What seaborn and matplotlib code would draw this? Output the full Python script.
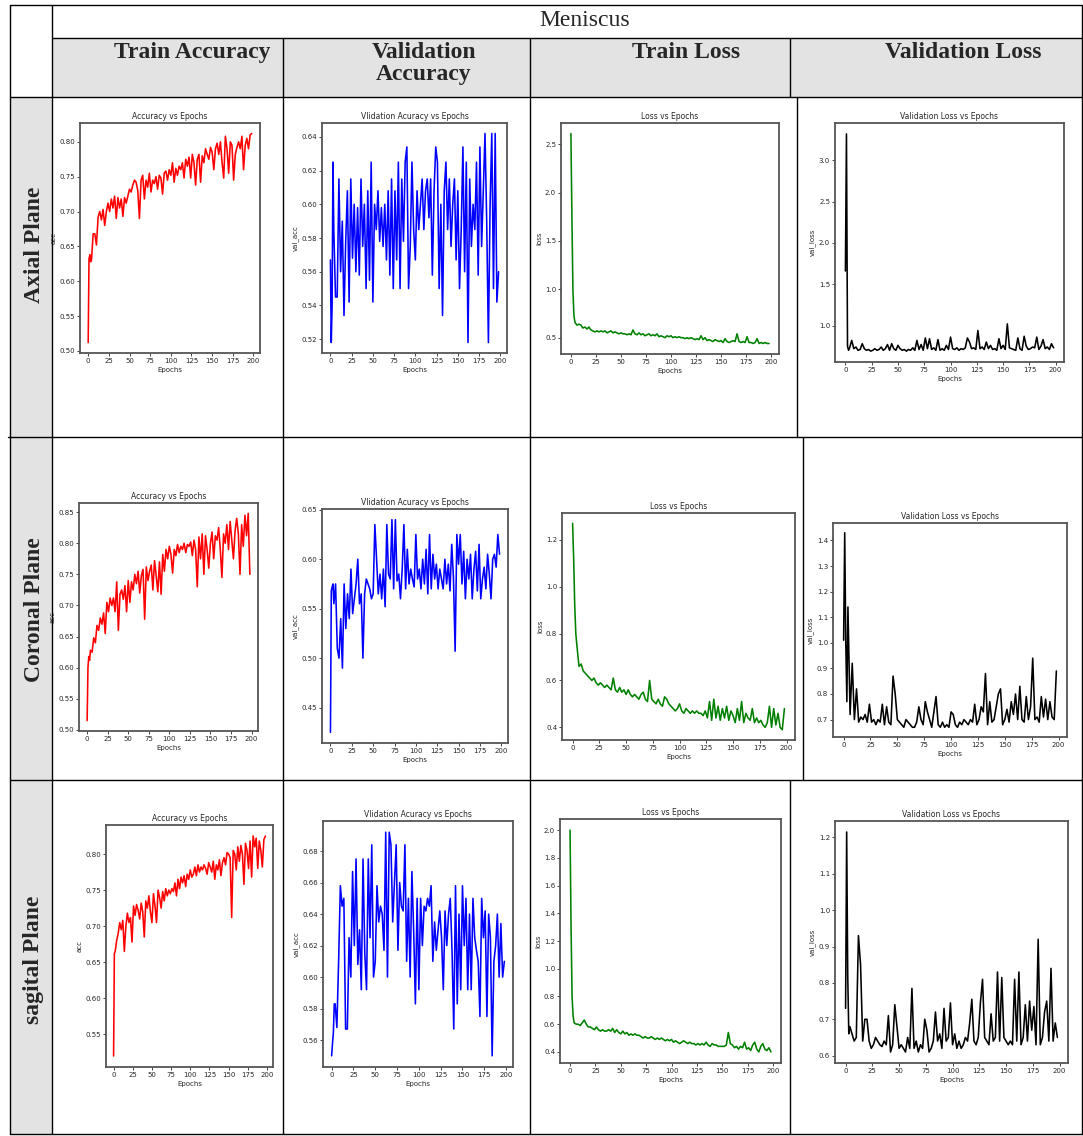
import matplotlib
matplotlib.use("Agg")
import matplotlib.pyplot as plt
import seaborn as sns
from matplotlib.lines import Line2D
from matplotlib.patches import Rectangle
from matplotlib.ticker import MultipleLocator

# ---------------------------
# Data (epochs 0-3 then every 2nd epoch)
# ---------------------------
EPOCHS = [0, 1, 2, 3] + list(range(4, 200, 2))

AX_TRAIN_ACC = [
    0.512, 0.632, 0.638, 0.628,
    0.630, 0.668, 0.668, 0.652, 0.692, 0.700, 0.688, 0.703, 0.680, 0.700, 0.712, 0.700, 0.718, 0.705,
    0.722, 0.690, 0.720, 0.705, 0.718, 0.693, 0.720, 0.712, 0.722, 0.732, 0.728, 0.738, 0.745, 0.742,
    0.730, 0.690, 0.745, 0.752, 0.718, 0.745, 0.735, 0.755, 0.728, 0.745, 0.740, 0.750, 0.732, 0.752,
    0.748, 0.725, 0.755, 0.758, 0.745, 0.760, 0.752, 0.770, 0.742, 0.762, 0.752, 0.765, 0.760, 0.770,
    0.748, 0.775, 0.765, 0.778, 0.748, 0.782, 0.770, 0.738, 0.775, 0.782, 0.742, 0.780, 0.770, 0.790,
    0.782, 0.775, 0.792, 0.785, 0.760, 0.790, 0.798, 0.782, 0.800, 0.770, 0.748, 0.808, 0.790, 0.755,
    0.800, 0.795, 0.745, 0.782, 0.792, 0.800, 0.790, 0.808, 0.760, 0.795, 0.805, 0.790, 0.810, 0.812,
]
AX_VAL_ACC = [
    0.567, 0.518, 0.540, 0.625,
    0.585, 0.545, 0.545, 0.615, 0.560, 0.590, 0.534, 0.578, 0.608, 0.542, 0.615, 0.568, 0.600, 0.560,
    0.598, 0.558, 0.615, 0.575, 0.600, 0.550, 0.608, 0.555, 0.625, 0.542, 0.600, 0.585, 0.608, 0.578,
    0.598, 0.575, 0.600, 0.567, 0.608, 0.558, 0.615, 0.550, 0.608, 0.567, 0.625, 0.550, 0.615, 0.578,
    0.625, 0.634, 0.550, 0.575, 0.625, 0.585, 0.567, 0.608, 0.585, 0.600, 0.615, 0.585, 0.608, 0.615,
    0.592, 0.615, 0.558, 0.608, 0.634, 0.625, 0.550, 0.600, 0.534, 0.608, 0.625, 0.585, 0.615, 0.575,
    0.600, 0.615, 0.567, 0.608, 0.550, 0.585, 0.634, 0.560, 0.625, 0.518, 0.615, 0.575, 0.600, 0.585,
    0.625, 0.558, 0.634, 0.575, 0.608, 0.642, 0.590, 0.518, 0.600, 0.642, 0.550, 0.642, 0.542, 0.560,
]
AX_TRAIN_LOSS = [
    2.61, 1.75, 1.00, 0.73,
    0.66, 0.63, 0.64, 0.63, 0.60, 0.61, 0.59, 0.61, 0.58, 0.57, 0.56, 0.57, 0.56, 0.57,
    0.56, 0.57, 0.55, 0.56, 0.57, 0.55, 0.56, 0.55, 0.54, 0.55, 0.54, 0.54, 0.53, 0.54,
    0.53, 0.58, 0.54, 0.53, 0.55, 0.53, 0.54, 0.52, 0.53, 0.54, 0.52, 0.53, 0.52, 0.54,
    0.51, 0.52, 0.51, 0.50, 0.52, 0.51, 0.52, 0.50, 0.51, 0.50, 0.51, 0.50, 0.50, 0.49,
    0.50, 0.49, 0.50, 0.49, 0.48, 0.49, 0.48, 0.52, 0.48, 0.50, 0.47, 0.48, 0.47, 0.46,
    0.48, 0.47, 0.46, 0.47, 0.45, 0.49, 0.46, 0.45, 0.46, 0.47, 0.46, 0.54, 0.46, 0.45,
    0.46, 0.45, 0.51, 0.45, 0.45, 0.44, 0.45, 0.49, 0.44, 0.45, 0.44, 0.45, 0.44, 0.44,
]
AX_VAL_LOSS = [
    1.66, 3.32, 0.75, 0.70,
    0.73, 0.82, 0.72, 0.74, 0.70, 0.71, 0.78, 0.72, 0.70, 0.71, 0.69, 0.70, 0.72, 0.70,
    0.71, 0.74, 0.70, 0.72, 0.77, 0.70, 0.78, 0.72, 0.70, 0.76, 0.72, 0.70, 0.71, 0.69,
    0.71, 0.70, 0.73, 0.70, 0.82, 0.71, 0.77, 0.70, 0.85, 0.72, 0.84, 0.71, 0.73, 0.70,
    0.83, 0.70, 0.72, 0.70, 0.76, 0.71, 0.86, 0.72, 0.71, 0.73, 0.70, 0.72, 0.71, 0.73,
    0.85, 0.80, 0.72, 0.73, 0.71, 0.94, 0.72, 0.74, 0.71, 0.80, 0.72, 0.76, 0.71, 0.72,
    0.70, 0.84, 0.72, 0.76, 0.71, 1.02, 0.73, 0.72, 0.71, 0.70, 0.85, 0.72, 0.70, 0.87,
    0.75, 0.71, 0.72, 0.74, 0.73, 0.86, 0.71, 0.75, 0.83, 0.72, 0.74, 0.71, 0.78, 0.73,
]

CO_TRAIN_ACC = [
    0.515, 0.600, 0.618, 0.612,
    0.628, 0.625, 0.648, 0.640, 0.668, 0.660, 0.680, 0.670, 0.688, 0.655, 0.705, 0.690, 0.712, 0.700,
    0.712, 0.690, 0.738, 0.660, 0.718, 0.725, 0.710, 0.732, 0.690, 0.740, 0.705, 0.738, 0.725, 0.750,
    0.735, 0.755, 0.720, 0.748, 0.758, 0.678, 0.762, 0.740, 0.755, 0.765, 0.725, 0.772, 0.748, 0.722,
    0.770, 0.718, 0.782, 0.755, 0.790, 0.775, 0.795, 0.782, 0.752, 0.790, 0.780, 0.798, 0.785, 0.795,
    0.790, 0.800, 0.785, 0.798, 0.795, 0.802, 0.780, 0.805, 0.790, 0.730, 0.810, 0.775, 0.815, 0.750,
    0.812, 0.790, 0.760, 0.800, 0.818, 0.775, 0.812, 0.805, 0.825, 0.790, 0.745, 0.815, 0.800, 0.830,
    0.790, 0.835, 0.805, 0.775, 0.820, 0.840, 0.815, 0.750, 0.830, 0.795, 0.845, 0.812, 0.848, 0.750,
]
CO_VAL_ACC = [
    0.425, 0.568, 0.572, 0.575,
    0.555, 0.575, 0.510, 0.500, 0.540, 0.490, 0.575, 0.530, 0.565, 0.540, 0.590, 0.545, 0.560, 0.575,
    0.600, 0.555, 0.565, 0.500, 0.565, 0.580, 0.575, 0.570, 0.560, 0.565, 0.635, 0.600, 0.565, 0.585,
    0.560, 0.590, 0.552, 0.635, 0.585, 0.580, 0.640, 0.570, 0.640, 0.578, 0.585, 0.560, 0.590, 0.635,
    0.570, 0.610, 0.575, 0.590, 0.580, 0.572, 0.625, 0.580, 0.590, 0.570, 0.600, 0.575, 0.610, 0.565,
    0.625, 0.570, 0.605, 0.580, 0.595, 0.570, 0.590, 0.580, 0.570, 0.600, 0.575, 0.595, 0.568, 0.615,
    0.582, 0.507, 0.625, 0.595, 0.625, 0.575, 0.608, 0.560, 0.600, 0.580, 0.605, 0.560, 0.590, 0.608,
    0.568, 0.615, 0.560, 0.580, 0.592, 0.570, 0.605, 0.585, 0.560, 0.600, 0.605, 0.592, 0.625, 0.605,
]
CO_TRAIN_LOSS = [
    1.27, 1.12, 0.92, 0.80,
    0.75, 0.66, 0.67, 0.64, 0.63, 0.62, 0.61, 0.60, 0.61, 0.59, 0.58, 0.59, 0.58, 0.57,
    0.58, 0.57, 0.56, 0.61, 0.56, 0.55, 0.57, 0.55, 0.56, 0.54, 0.56, 0.54, 0.53, 0.54,
    0.53, 0.52, 0.54, 0.55, 0.52, 0.51, 0.60, 0.52, 0.51, 0.50, 0.52, 0.50, 0.49, 0.53,
    0.52, 0.50, 0.49, 0.48, 0.47, 0.48, 0.50, 0.47, 0.46, 0.48, 0.47, 0.46, 0.47, 0.46,
    0.47, 0.46, 0.46, 0.45, 0.47, 0.44, 0.51, 0.43, 0.52, 0.44, 0.49, 0.43, 0.48, 0.44,
    0.49, 0.43, 0.47, 0.45, 0.42, 0.48, 0.43, 0.51, 0.42, 0.46, 0.44, 0.43, 0.48, 0.42,
    0.44, 0.42, 0.43, 0.41, 0.40, 0.42, 0.49, 0.40, 0.48, 0.41, 0.46, 0.40, 0.39, 0.48,
]
CO_VAL_LOSS = [
    1.01, 1.43, 1.00, 0.77,
    1.14, 0.72, 0.92, 0.70, 0.82, 0.69, 0.71, 0.70, 0.72, 0.69, 0.76, 0.69, 0.70, 0.68,
    0.70, 0.69, 0.76, 0.68, 0.75, 0.69, 0.68, 0.87, 0.80, 0.70, 0.69, 0.68, 0.67, 0.70,
    0.69, 0.68, 0.67, 0.67, 0.69, 0.75, 0.70, 0.68, 0.77, 0.73, 0.70, 0.67, 0.73, 0.79,
    0.68, 0.67, 0.69, 0.67, 0.68, 0.67, 0.73, 0.72, 0.68, 0.67, 0.69, 0.68, 0.70, 0.69,
    0.68, 0.70, 0.69, 0.76, 0.68, 0.70, 0.75, 0.73, 0.88, 0.68, 0.77, 0.69, 0.70, 0.75,
    0.80, 0.82, 0.68, 0.70, 0.74, 0.69, 0.77, 0.72, 0.80, 0.70, 0.83, 0.70, 0.69, 0.79,
    0.70, 0.75, 0.94, 0.70, 0.71, 0.69, 0.79, 0.71, 0.78, 0.70, 0.77, 0.71, 0.70, 0.89,
]

SA_TRAIN_ACC = [
    0.520, 0.662, 0.665, 0.672,
    0.680, 0.690, 0.705, 0.695, 0.708, 0.665, 0.700, 0.718, 0.705, 0.712, 0.678, 0.728, 0.715, 0.730,
    0.722, 0.710, 0.732, 0.720, 0.685, 0.735, 0.725, 0.742, 0.720, 0.705, 0.745, 0.728, 0.705, 0.750,
    0.740, 0.725, 0.748, 0.735, 0.752, 0.742, 0.750, 0.745, 0.752, 0.748, 0.760, 0.742, 0.765, 0.752,
    0.768, 0.760, 0.770, 0.755, 0.772, 0.765, 0.778, 0.768, 0.772, 0.782, 0.770, 0.785, 0.775, 0.782,
    0.778, 0.785, 0.780, 0.772, 0.788, 0.782, 0.775, 0.790, 0.765, 0.785, 0.778, 0.792, 0.770, 0.788,
    0.795, 0.785, 0.802, 0.800, 0.795, 0.712, 0.805, 0.800, 0.778, 0.810, 0.790, 0.812, 0.800, 0.758,
    0.815, 0.805, 0.780, 0.818, 0.768, 0.825, 0.810, 0.822, 0.780, 0.818, 0.805, 0.782, 0.820, 0.825,
]
SA_VAL_ACC = [
    0.550, 0.558, 0.565, 0.583,
    0.583, 0.568, 0.610, 0.658, 0.645, 0.650, 0.567, 0.567, 0.625, 0.600, 0.667, 0.620, 0.675, 0.608,
    0.630, 0.592, 0.675, 0.615, 0.592, 0.675, 0.625, 0.684, 0.600, 0.610, 0.658, 0.635, 0.645, 0.640,
    0.617, 0.692, 0.600, 0.692, 0.684, 0.635, 0.660, 0.684, 0.617, 0.660, 0.645, 0.642, 0.684, 0.610,
    0.650, 0.600, 0.667, 0.630, 0.583, 0.650, 0.592, 0.650, 0.620, 0.645, 0.642, 0.650, 0.645, 0.658,
    0.610, 0.635, 0.617, 0.630, 0.642, 0.625, 0.592, 0.642, 0.620, 0.640, 0.650, 0.617, 0.567, 0.658,
    0.583, 0.640, 0.592, 0.658, 0.620, 0.650, 0.592, 0.640, 0.592, 0.650, 0.625, 0.617, 0.610, 0.575,
    0.650, 0.625, 0.642, 0.575, 0.640, 0.625, 0.550, 0.610, 0.620, 0.640, 0.600, 0.634, 0.600, 0.610,
]
SA_TRAIN_LOSS = [
    2.00, 1.30, 0.80, 0.66,
    0.61, 0.60, 0.60, 0.59, 0.61, 0.63, 0.60, 0.58, 0.58, 0.57, 0.56, 0.58, 0.56, 0.55,
    0.56, 0.55, 0.55, 0.56, 0.55, 0.57, 0.54, 0.56, 0.54, 0.53, 0.55, 0.53, 0.54, 0.52,
    0.53, 0.52, 0.53, 0.52, 0.52, 0.51, 0.50, 0.51, 0.50, 0.50, 0.51, 0.50, 0.49, 0.50,
    0.49, 0.50, 0.49, 0.48, 0.49, 0.48, 0.49, 0.47, 0.48, 0.47, 0.46, 0.47, 0.48, 0.47,
    0.46, 0.47, 0.46, 0.46, 0.45, 0.46, 0.45, 0.46, 0.45, 0.47, 0.45, 0.44, 0.46, 0.45,
    0.45, 0.44, 0.44, 0.44, 0.44, 0.45, 0.54, 0.46, 0.45, 0.43, 0.44, 0.42, 0.44, 0.43,
    0.47, 0.42, 0.43, 0.41, 0.45, 0.47, 0.42, 0.40, 0.44, 0.46, 0.42, 0.41, 0.43, 0.40,
]
SA_VAL_LOSS = [
    0.730, 1.215, 0.820, 0.660,
    0.680, 0.660, 0.640, 0.650, 0.930, 0.850, 0.640, 0.700, 0.700, 0.640, 0.620, 0.630, 0.650, 0.640,
    0.630, 0.625, 0.640, 0.630, 0.710, 0.610, 0.630, 0.740, 0.680, 0.620, 0.630, 0.620, 0.610, 0.650,
    0.620, 0.785, 0.620, 0.640, 0.610, 0.630, 0.620, 0.700, 0.670, 0.610, 0.620, 0.640, 0.720, 0.640,
    0.660, 0.620, 0.730, 0.640, 0.650, 0.745, 0.630, 0.660, 0.620, 0.640, 0.620, 0.630, 0.650, 0.640,
    0.690, 0.755, 0.640, 0.630, 0.650, 0.745, 0.810, 0.650, 0.640, 0.630, 0.715, 0.640, 0.650, 0.830,
    0.640, 0.815, 0.650, 0.640, 0.630, 0.640, 0.630, 0.810, 0.640, 0.830, 0.630, 0.650, 0.740, 0.640,
    0.750, 0.670, 0.735, 0.630, 0.920, 0.630, 0.650, 0.720, 0.750, 0.640, 0.840, 0.640, 0.690, 0.650,
]

COLUMN_HEADERS = ["Train Accuracy", "Validation\nAccuracy", "Train Loss", "Validation Loss"]
ROW_LABELS = ["Axial Plane", "Coronal Plane", "sagital Plane"]
TABLE_TITLE = "Meniscus"

# ---------------------------
# Layout (pixels of the 1083 x 1136 canvas)
# ---------------------------
W, H = 1083, 1136
sns.set_theme(style="ticks")
plt.rcParams["font.family"] = ["DejaVu Sans"]

fig = plt.figure(figsize=(W / 100, H / 100), dpi=100)
fig.patch.set_facecolor("white")


def fx(x):
    return x / W


def fy(y):
    return 1 - y / H


def line(x0, y0, x1, y1, lw=1.0):
    fig.add_artist(Line2D([fx(x0), fx(x1)], [fy(y0), fy(y1)],
                          transform=fig.transFigure, color="black", lw=lw))


def fill(x0, y0, x1, y1, color="#e3e3e3"):
    fig.add_artist(Rectangle((fx(x0), fy(y1)), fx(x1) - fx(x0), fy(y0) - fy(y1),
                             transform=fig.transFigure, facecolor=color,
                             edgecolor="none", zorder=0))


# grey cells
fill(52, 38, 1083, 97)
fill(10, 97, 52, 437)
fill(10, 437, 52, 780)
fill(10, 780, 52, 1134)

# table rules
line(10, 5, 1083, 5)
line(52, 38, 1083, 38)
line(10, 97, 1083, 97)
line(8, 437, 1083, 437)
line(10, 780, 1083, 780)
line(10, 1134, 1083, 1134)
line(10, 5, 10, 1134)
line(52, 5, 52, 1134)
line(1082, 5, 1082, 1134)
for x in (283, 530, 790):
    line(x, 38, x, 97)
for x in (283, 530, 797):
    line(x, 97, x, 437)
for x in (283, 530, 803):
    line(x, 437, x, 780)
for x in (283, 530, 790):
    line(x, 780, x, 1134)

serif = ["Liberation Serif", "DejaVu Serif"]
fig.text(fx(585), fy(21), TABLE_TITLE, ha="center", va="center",
         fontsize=17, family=serif)
header_x = [192, 424, 686, 963]
for x, label in zip(header_x, COLUMN_HEADERS):
    fig.text(fx(x), fy(42), label, ha="center", va="top", fontsize=17,
             fontweight="bold", family=serif, linespacing=1.05)
row_y = [245, 610, 960]
for y, label in zip(row_y, ROW_LABELS):
    fig.text(fx(34), fy(y), label, ha="center", va="center", rotation=90,
             fontsize=17, fontweight="bold", family=serif)

# ---------------------------
# Panels
# ---------------------------
panels = [
    ((80, 123, 260, 353), AX_TRAIN_ACC, "red", "Accuracy vs Epochs", "acc", 0.05),
    ((322, 123, 507, 353), AX_VAL_ACC, "blue", "Vlidation Acuracy vs Epochs", "val_acc", 0.02),
    ((561, 123, 779, 354), AX_TRAIN_LOSS, "green", "Loss vs Epochs", "loss", 0.5),
    ((835, 123, 1064, 362), AX_VAL_LOSS, "black", "Validation Loss vs Epochs", "val_loss", 0.5),
    ((79, 503, 258, 731), CO_TRAIN_ACC, "red", "Accuracy vs Epochs", "acc", 0.05),
    ((322, 509, 508, 743), CO_VAL_ACC, "blue", "Vlidation Acuracy vs Epochs", "val_acc", 0.05),
    ((562, 513, 795, 740), CO_TRAIN_LOSS, "green", "Loss vs Epochs", "loss", 0.2),
    ((833, 523, 1067, 737), CO_VAL_LOSS, "black", "Validation Loss vs Epochs", "val_loss", 0.1),
    ((106, 825, 273, 1067), SA_TRAIN_ACC, "red", "Accuracy vs Epochs", "acc", 0.05),
    ((323, 821, 513, 1067), SA_VAL_ACC, "blue", "Vlidation Acuracy vs Epochs", "val_acc", 0.02),
    ((560, 819, 781, 1063), SA_TRAIN_LOSS, "green", "Loss vs Epochs", "loss", 0.2),
    ((835, 821, 1068, 1063), SA_VAL_LOSS, "black", "Validation Loss vs Epochs", "val_loss", 0.1),
]

for (x0, y0, x1, y1), values, color, title, ylabel, ystep in panels:
    ax = fig.add_axes([fx(x0), fy(y1), fx(x1) - fx(x0), fy(y0) - fy(y1)])
    sns.lineplot(x=EPOCHS, y=values, ax=ax, color=color, linewidth=1.15)
    ax.set_title(title, fontsize=5.5, pad=3)
    ax.set_xlabel("Epochs", fontsize=5, labelpad=2)
    ax.set_ylabel(ylabel, fontsize=5, labelpad=2)
    ax.xaxis.set_major_locator(MultipleLocator(25))
    ax.yaxis.set_major_locator(MultipleLocator(ystep))
    ax.tick_params(labelsize=5, length=2, width=0.6, pad=1.5)
    for spine in ax.spines.values():
        spine.set_visible(True)
        spine.set_color("#555555")
        spine.set_linewidth(1.3)

fig.savefig("out.png", dpi=100)
